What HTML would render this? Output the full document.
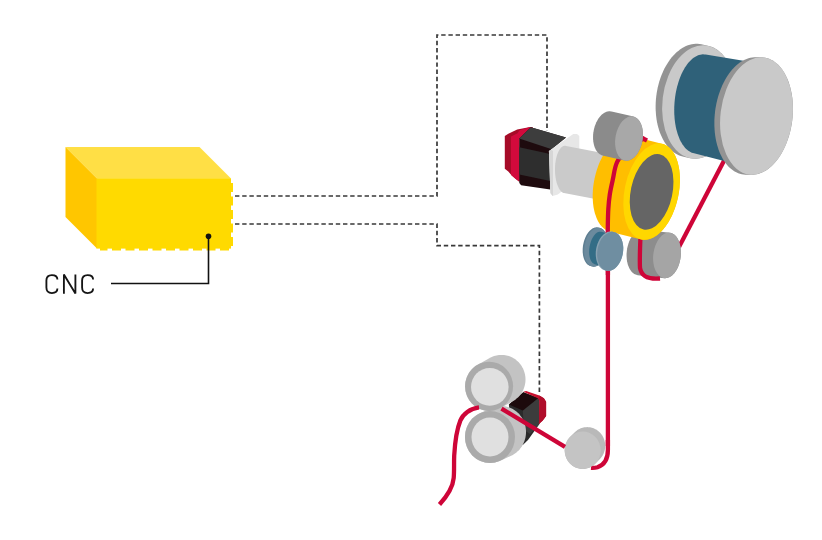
<!DOCTYPE html>
<html><head><meta charset="utf-8"><style>
html,body{margin:0;padding:0;background:#fff;width:822px;height:540px;overflow:hidden}
svg{display:block}
body{font-family:"Liberation Sans",sans-serif}
</style></head><body>
<svg width="822" height="540" viewBox="0 0 822 540">
<rect width="822" height="540" fill="#fff"/>
<polygon points="65.50,147.00 199.50,147.00 231.00,178.50 97.00,178.50" fill="#FFDF45"/>
<polygon points="65.50,147.00 97.00,178.50 97.00,248.50 65.50,217.00" fill="#FFC600"/>
<rect x="96.5" y="178.3" width="134.5" height="70.3" fill="#FFDA00"/>
<path d="M231 183 V248.5 H100" fill="none" stroke="#FFDA00" stroke-width="4" stroke-dasharray="9 4.5"/>
<path d="M235 196 H437 V35 H547 V131" fill="none" stroke="#383838" stroke-width="1.7" stroke-dasharray="4.4 2.8"/>
<path d="M235 224 H437 V245.6 H539.4 V393" fill="none" stroke="#383838" stroke-width="1.7" stroke-dasharray="4.4 2.8"/>
<path d="M208.5 236 V283.5 H111" fill="none" stroke="#111" stroke-width="1.6"/>
<circle cx="208.5" cy="236.3" r="2.8" fill="#111"/>
<path d="M57.40 279.6 C57.40 276.6 55.20 275.1 51.90 275.1 C48.60 275.1 46.40 277 46.40 280.6 V287.6 C46.40 291.2 48.60 293.1 51.90 293.1 C55.20 293.1 57.40 291.6 57.40 288.6 M93.10 279.6 C93.10 276.6 90.90 275.1 87.60 275.1 C84.30 275.1 82.10 277 82.10 280.6 V287.6 C82.10 291.2 84.30 293.1 87.60 293.1 C90.90 293.1 93.10 291.6 93.10 288.6 M63.9 293.8 V274.6 L75.4 293.6 V274.4" fill="none" stroke="#151515" stroke-width="1.85" stroke-linejoin="bevel"/>
<polygon points="504.80,136.00 508.30,133.80 517.20,129.60 530.20,126.90 533.00,127.50 519.40,139.00 519.40,182.00 515.80,179.00 511.70,175.50 508.30,171.40 504.80,168.70" fill="#A60B28"/>
<polygon points="511.00,136.50 517.50,133.20 519.50,130.30 530.20,127.00 533.00,127.50 519.40,139.00 519.80,181.50 515.80,179.00 511.70,175.50 511.00,174.50" fill="#D20A3C"/>
<polygon points="519.30,138.50 530.80,127.30 566.00,137.40 551.00,149.20 550.30,189.40 521.10,185.30 519.30,183.00" fill="#1E0B0E"/>
<polygon points="519.30,138.50 530.80,127.30 566.00,137.40 551.70,149.20" fill="#3D3D3D"/>
<polygon points="519.30,147.30 550.30,154.00 550.30,181.10 519.30,174.40" fill="#2E2E2E"/>
<polygon points="548.90,150.90 551.10,149.40 573.30,133.90 577.00,133.90 579.30,136.10 579.30,178.00 557.80,194.60 552.60,196.10 550.40,193.10" fill="#E7E7E7"/>
<polygon points="548.90,150.90 551.10,149.40 553.00,151.00 553.00,195.00 552.60,196.10 550.40,193.10" fill="#D6D6D6"/>
<polygon points="555.00,169.50 555.01,168.26 555.05,167.02 555.12,165.79 555.22,164.57 555.34,163.37 555.49,162.18 555.66,161.01 555.86,159.86 556.09,158.74 556.34,157.65 556.61,156.59 556.91,155.57 557.23,154.59 557.57,153.64 557.93,152.74 558.31,151.89 558.71,151.08 559.12,150.33 559.55,149.62 560.00,148.98 560.46,148.38 560.93,147.85 561.42,147.37 561.91,146.96 562.41,146.61 562.92,146.32 563.44,146.09 563.95,145.93 564.48,145.83 565.00,145.80 565.52,145.83 566.05,145.93 600.05,152.43 600.56,152.59 601.08,152.82 601.59,153.11 602.09,153.46 602.58,153.87 603.07,154.35 603.54,154.88 604.00,155.48 604.45,156.12 604.88,156.83 605.29,157.58 605.69,158.39 606.07,159.24 606.43,160.14 606.77,161.09 607.09,162.07 607.39,163.09 607.66,164.15 607.91,165.24 608.14,166.36 608.34,167.51 608.51,168.68 608.66,169.87 608.78,171.07 608.88,172.29 608.95,173.52 608.99,174.76 609.00,176.00 608.99,177.24 608.95,178.48 608.88,179.71 608.78,180.93 608.66,182.13 608.51,183.32 608.34,184.49 608.14,185.64 607.91,186.76 607.66,187.85 607.39,188.91 607.09,189.93 606.77,190.91 606.43,191.86 606.07,192.76 605.69,193.61 605.29,194.42 604.88,195.17 604.45,195.88 604.00,196.52 603.54,197.12 603.07,197.65 602.58,198.13 602.09,198.54 601.59,198.89 601.08,199.18 600.56,199.41 600.05,199.57 599.52,199.67 599.00,199.70 598.48,199.67 597.95,199.57 563.95,193.07 563.44,192.91 562.92,192.68 562.41,192.39 561.91,192.04 561.42,191.63 560.93,191.15 560.46,190.62 560.00,190.02 559.55,189.38 559.12,188.67 558.71,187.92 558.31,187.11 557.93,186.26 557.57,185.36 557.23,184.41 556.91,183.43 556.61,182.41 556.34,181.35 556.09,180.26 555.86,179.14 555.66,177.99 555.49,176.82 555.34,175.63 555.22,174.43 555.12,173.21 555.05,171.98 555.01,170.74" fill="#CACACA"/>
<path d="M727 155 L679 247" stroke="#CE0538" stroke-width="4.3" fill="none"/>
<polygon points="655.62,107.91 655.63,104.96 655.74,101.99 655.96,99.02 656.27,96.05 656.69,93.10 657.20,90.16 657.80,87.26 658.51,84.39 659.30,81.56 660.19,78.79 661.17,76.07 662.23,73.43 663.37,70.85 664.60,68.36 665.90,65.96 667.27,63.65 668.72,61.44 670.23,59.34 671.79,57.35 673.42,55.48 675.10,53.73 676.83,52.12 678.59,50.63 680.40,49.28 682.24,48.07 684.11,47.01 686.00,46.09 687.91,45.32 689.83,44.70 691.76,44.24 693.69,43.93 695.62,43.77 697.54,43.77 699.45,43.92 701.33,44.24 707.83,45.74 709.70,46.20 711.53,46.82 713.33,47.59 715.09,48.50 716.80,49.57 718.47,50.78 720.08,52.13 721.64,53.61 723.13,55.23 724.56,56.97 725.91,58.84 727.20,60.83 728.40,62.93 729.53,65.14 730.57,67.45 731.53,69.85 732.39,72.34 733.17,74.92 733.85,77.56 734.43,80.28 734.92,83.05 735.31,85.88 735.60,88.75 735.79,91.65 735.88,94.59 735.87,97.54 735.76,100.51 735.54,103.48 735.23,106.45 734.81,109.40 734.30,112.34 733.70,115.24 732.99,118.11 732.20,120.94 731.31,123.71 730.33,126.43 729.27,129.07 728.13,131.65 726.90,134.14 725.60,136.54 724.23,138.85 722.78,141.06 721.27,143.16 719.71,145.15 718.08,147.02 716.40,148.77 714.67,150.38 712.91,151.87 711.10,153.22 709.26,154.43 707.39,155.49 705.50,156.41 703.59,157.18 701.67,157.80 699.74,158.26 697.81,158.57 695.88,158.73 693.96,158.73 692.05,158.58 690.17,158.26 683.67,156.76 681.80,156.30 679.97,155.68 678.17,154.91 676.41,154.00 674.70,152.93 673.03,151.72 671.42,150.37 669.86,148.89 668.37,147.27 666.94,145.53 665.59,143.66 664.30,141.67 663.10,139.57 661.97,137.36 660.93,135.05 659.97,132.65 659.11,130.16 658.33,127.58 657.65,124.94 657.07,122.22 656.58,119.45 656.19,116.62 655.90,113.75 655.71,110.85" fill="#939393"/><ellipse cx="699.00" cy="102.00" rx="36.50" ry="57.00" transform="rotate(7.00 699.00 102.00)" fill="#C9C9C9"/>
<polygon points="674.23,109.57 674.28,106.98 674.40,104.38 674.60,101.78 674.86,99.18 675.19,96.60 675.59,94.04 676.05,91.51 676.59,89.01 677.18,86.56 677.84,84.15 678.56,81.79 679.34,79.50 680.17,77.27 681.06,75.12 682.00,73.04 682.99,71.05 684.03,69.15 685.11,67.35 686.23,65.65 687.39,64.05 688.58,62.56 689.80,61.18 691.06,59.92 692.33,58.79 693.63,57.77 694.95,56.89 696.28,56.13 697.62,55.50 698.96,55.01 700.31,54.65 701.66,54.43 703.00,54.34 704.34,54.39 705.66,54.57 753.93,62.39 755.32,62.73 756.68,63.20 758.03,63.82 759.34,64.57 760.62,65.46 761.87,66.48 763.08,67.63 764.25,68.91 765.37,70.31 766.45,71.84 767.48,73.47 768.45,75.22 769.37,77.08 770.22,79.03 771.02,81.09 771.76,83.23 772.42,85.46 773.03,87.76 773.56,90.14 774.02,92.58 774.42,95.08 774.73,97.63 774.98,100.23 775.15,102.87 775.25,105.53 775.28,108.22 775.22,110.93 775.10,113.64 774.90,116.35 774.62,119.06 774.28,121.76 773.86,124.43 773.37,127.07 772.81,129.68 772.18,132.25 771.49,134.76 770.73,137.22 769.91,139.61 769.03,141.94 768.09,144.19 767.10,146.35 766.05,148.43 764.96,150.41 763.81,152.29 762.63,154.07 761.40,155.74 760.14,157.29 758.85,158.73 757.52,160.04 756.17,161.22 754.80,162.28 753.41,163.20 752.00,163.99 750.58,164.65 749.16,165.16 747.73,165.53 746.30,165.76 744.88,165.85 743.47,165.80 742.07,165.61 740.68,165.27 693.03,153.11 691.74,152.65 690.47,152.06 689.23,151.34 688.02,150.50 686.84,149.52 685.70,148.42 684.60,147.19 683.54,145.85 682.52,144.40 681.56,142.83 680.64,141.16 679.78,139.38 678.97,137.51 678.22,135.54 677.53,133.49 676.90,131.36 676.33,129.16 675.83,126.88 675.40,124.54 675.03,122.15 674.73,119.70 674.50,117.22 674.34,114.69 674.25,112.14" fill="#2F6179"/>
<polygon points="714.35,123.88 714.38,120.83 714.51,117.76 714.74,114.68 715.07,111.61 715.49,108.55 716.02,105.52 716.63,102.51 717.34,99.53 718.15,96.61 719.04,93.73 720.02,90.92 721.08,88.17 722.23,85.51 723.45,82.92 724.75,80.43 726.12,78.03 727.56,75.74 729.06,73.56 730.62,71.49 732.23,69.55 733.90,67.73 735.61,66.04 737.37,64.50 739.16,63.09 740.98,61.83 742.84,60.72 744.71,59.76 746.60,58.95 748.50,58.30 750.40,57.81 752.31,57.47 754.22,57.30 756.11,57.29 761.81,57.29 763.69,57.44 765.55,57.75 767.39,58.22 769.19,58.85 770.96,59.63 772.69,60.57 774.38,61.66 776.02,62.90 777.60,64.29 779.13,65.81 780.59,67.48 781.99,69.28 783.32,71.20 784.57,73.25 785.75,75.42 786.85,77.69 787.87,80.08 788.79,82.56 789.63,85.13 790.38,87.79 791.04,90.52 791.60,93.32 792.07,96.19 792.44,99.11 792.70,102.08 792.88,105.08 792.95,108.12 792.92,111.17 792.79,114.24 792.56,117.32 792.23,120.39 791.81,123.45 791.28,126.48 790.67,129.49 789.96,132.47 789.15,135.39 788.26,138.27 787.28,141.08 786.22,143.83 785.07,146.49 783.85,149.08 782.55,151.57 781.18,153.97 779.74,156.26 778.24,158.44 776.68,160.51 775.07,162.45 773.40,164.27 771.69,165.96 769.93,167.50 768.14,168.91 766.32,170.17 764.46,171.28 762.59,172.24 760.70,173.05 758.80,173.70 756.90,174.19 754.99,174.53 753.08,174.70 751.19,174.71 745.49,174.71 743.61,174.56 741.75,174.25 739.91,173.78 738.11,173.15 736.34,172.37 734.61,171.43 732.92,170.34 731.28,169.10 729.70,167.71 728.17,166.19 726.71,164.52 725.31,162.72 723.98,160.80 722.73,158.75 721.55,156.58 720.45,154.31 719.43,151.92 718.51,149.44 717.67,146.87 716.92,144.21 716.26,141.48 715.70,138.68 715.23,135.81 714.86,132.89 714.60,129.92 714.42,126.92" fill="#939393"/><ellipse cx="756.50" cy="116.00" rx="36.00" ry="59.00" transform="rotate(7.00 756.50 116.00)" fill="#C9C9C9"/>
<polygon points="626.57,255.49 626.58,254.30 626.64,253.11 626.73,251.92 626.85,250.72 627.02,249.54 627.22,248.36 627.46,247.19 627.73,246.04 628.04,244.90 628.38,243.78 628.76,242.69 629.17,241.62 629.61,240.59 630.08,239.58 630.57,238.62 631.10,237.68 631.65,236.79 632.23,235.95 632.82,235.14 633.44,234.39 634.08,233.68 634.74,233.03 635.41,232.42 636.09,231.88 636.79,231.39 637.50,230.95 638.21,230.58 638.94,230.27 639.66,230.01 640.39,229.82 641.12,229.69 641.85,229.62 642.57,229.61 643.29,229.67 669.79,232.67 670.50,232.79 671.20,232.97 671.89,233.21 672.57,233.52 673.23,233.88 673.87,234.30 674.50,234.78 675.10,235.32 675.68,235.91 676.24,236.55 676.77,237.25 677.28,238.00 677.76,238.79 678.21,239.63 678.62,240.51 679.01,241.44 679.36,242.40 679.68,243.40 679.97,244.43 680.21,245.49 680.43,246.57 680.60,247.69 680.74,248.82 680.84,249.97 680.90,251.14 680.93,252.31 680.92,253.50 680.86,254.69 680.77,255.88 680.65,257.08 680.48,258.26 680.28,259.44 680.04,260.61 679.77,261.76 679.46,262.90 679.12,264.02 678.74,265.11 678.33,266.18 677.89,267.21 677.42,268.22 676.93,269.18 676.40,270.12 675.85,271.01 675.27,271.85 674.68,272.66 674.06,273.41 673.42,274.12 672.76,274.77 672.09,275.38 671.41,275.92 670.71,276.41 670.00,276.85 669.29,277.22 668.56,277.53 667.84,277.79 667.11,277.98 666.38,278.11 665.65,278.18 664.93,278.19 664.21,278.13 637.71,275.13 637.00,275.01 636.30,274.83 635.61,274.59 634.93,274.28 634.27,273.92 633.63,273.50 633.00,273.02 632.40,272.48 631.82,271.89 631.26,271.25 630.73,270.55 630.22,269.80 629.74,269.01 629.29,268.17 628.88,267.29 628.49,266.36 628.14,265.40 627.82,264.40 627.53,263.37 627.29,262.31 627.07,261.23 626.90,260.11 626.76,258.98 626.66,257.83 626.60,256.66" fill="#8D8D8D"/>
<path d="M640.5 236 C640 248 639.5 260 640 268 C641.5 276 647 279.5 660 278.5" stroke="#CE0538" stroke-width="4.3" fill="none"/>
<ellipse cx="667.00" cy="255.40" rx="13.75" ry="22.90" transform="rotate(7.00 667.00 255.40)" fill="#A5A5A5"/>
<polygon points="592.69,195.94 592.73,193.47 592.85,190.98 593.05,188.47 593.32,185.95 593.67,183.43 594.09,180.90 594.59,178.39 595.16,175.89 595.80,173.41 596.51,170.96 597.29,168.54 598.13,166.17 599.03,163.85 600.00,161.58 601.02,159.38 602.09,157.24 603.22,155.17 604.40,153.19 605.62,151.29 606.89,149.47 608.19,147.76 609.53,146.14 610.90,144.63 612.30,143.22 613.72,141.92 615.16,140.75 616.62,139.69 618.09,138.75 619.56,137.93 621.05,137.24 622.53,136.68 624.01,136.25 625.47,135.95 626.93,135.78 628.37,135.75 629.79,135.84 631.19,136.07 661.79,143.67 663.16,144.03 664.49,144.52 665.79,145.14 667.06,145.89 668.28,146.76 669.45,147.75 670.58,148.87 671.65,150.10 672.67,151.44 673.63,152.90 674.53,154.46 675.37,156.12 676.14,157.88 676.84,159.74 677.48,161.68 678.04,163.70 678.54,165.80 678.95,167.97 679.30,170.20 679.57,172.50 679.76,174.84 679.87,177.23 679.91,179.66 679.87,182.13 679.75,184.62 679.55,187.13 679.28,189.65 678.93,192.17 678.51,194.70 678.01,197.21 677.44,199.71 676.80,202.19 676.09,204.64 675.31,207.06 674.47,209.43 673.57,211.75 672.60,214.02 671.58,216.22 670.51,218.36 669.38,220.43 668.20,222.41 666.98,224.31 665.71,226.13 664.41,227.84 663.07,229.46 661.70,230.97 660.30,232.38 658.88,233.68 657.44,234.85 655.98,235.91 654.51,236.85 653.04,237.67 651.55,238.36 650.07,238.92 648.59,239.35 647.13,239.65 645.67,239.82 644.23,239.85 642.81,239.76 641.41,239.53 610.81,231.93 609.44,231.57 608.11,231.08 606.81,230.46 605.54,229.71 604.32,228.84 603.15,227.85 602.02,226.73 600.95,225.50 599.93,224.16 598.97,222.70 598.07,221.14 597.23,219.48 596.46,217.72 595.76,215.86 595.12,213.92 594.56,211.90 594.06,209.80 593.65,207.63 593.30,205.40 593.03,203.10 592.84,200.76 592.73,198.37" fill="#FFBE00"/>
<path d="M645.00 138.00 C642.33 139.50 633.63 143.02 629.00 147.00 C624.37 150.98 619.90 156.47 617.20 161.90 C614.50 167.33 614.03 174.18 612.80 179.60 C611.57 185.02 610.55 189.45 609.80 194.40 C609.05 199.35 608.63 203.87 608.30 209.30 C607.97 214.73 607.87 222.55 607.80 227.00 C607.73 231.45 607.88 234.50 607.90 236.00" stroke="#CE0538" stroke-width="4.3" fill="none"/>
<ellipse cx="651.60" cy="191.60" rx="27.00" ry="49.00" transform="rotate(12.00 651.60 191.60)" fill="#FFD700"/>
<ellipse cx="651.60" cy="191.90" rx="20.80" ry="38.50" transform="rotate(12.00 651.60 191.90)" fill="#656565"/>
<path d="M639 136.5 L647 140.5" stroke="#CE0538" stroke-width="4.3" fill="none"/>
<polygon points="593.06,136.93 593.09,135.78 593.16,134.62 593.27,133.46 593.42,132.30 593.61,131.14 593.83,129.99 594.09,128.85 594.38,127.72 594.71,126.60 595.07,125.51 595.46,124.44 595.89,123.39 596.35,122.37 596.83,121.38 597.35,120.42 597.89,119.50 598.45,118.62 599.04,117.78 599.65,116.98 600.28,116.23 600.93,115.53 601.59,114.87 602.27,114.27 602.97,113.71 603.67,113.21 604.39,112.77 605.11,112.39 605.83,112.06 606.56,111.79 607.29,111.58 608.02,111.43 608.75,111.34 609.47,111.31 610.18,111.35 610.89,111.44 611.59,111.59 633.59,116.59 634.27,116.81 634.94,117.08 635.59,117.41 636.22,117.80 636.84,118.25 637.43,118.75 638.00,119.31 638.55,119.92 639.07,120.58 639.56,121.29 640.02,122.04 640.45,122.84 640.85,123.69 641.22,124.57 641.56,125.49 641.86,126.45 642.12,127.44 642.35,128.47 642.54,129.52 642.70,130.59 642.82,131.68 642.90,132.80 642.94,133.93 642.94,135.07 642.91,136.22 642.84,137.38 642.73,138.54 642.58,139.70 642.39,140.86 642.17,142.01 641.91,143.15 641.62,144.28 641.29,145.40 640.93,146.49 640.54,147.56 640.11,148.61 639.65,149.63 639.17,150.62 638.65,151.58 638.11,152.50 637.55,153.38 636.96,154.22 636.35,155.02 635.72,155.77 635.07,156.47 634.41,157.13 633.73,157.73 633.03,158.29 632.33,158.79 631.61,159.23 630.89,159.61 630.17,159.94 629.44,160.21 628.71,160.42 627.98,160.57 627.25,160.66 626.53,160.69 625.82,160.65 625.11,160.56 624.41,160.41 602.41,155.41 601.73,155.19 601.06,154.92 600.41,154.59 599.78,154.20 599.16,153.75 598.57,153.25 598.00,152.69 597.45,152.08 596.93,151.42 596.44,150.71 595.98,149.96 595.55,149.16 595.15,148.31 594.78,147.43 594.44,146.51 594.14,145.55 593.88,144.56 593.65,143.53 593.46,142.48 593.30,141.41 593.18,140.32 593.10,139.20 593.06,138.07" fill="#8B8B8B"/><ellipse cx="629.00" cy="138.50" rx="13.60" ry="22.40" transform="rotate(10.00 629.00 138.50)" fill="#A8A8A8"/>
<path d="M607.9 232 V446" stroke="#CE0538" stroke-width="4.3" fill="none"/>
<polygon points="582.67,250.90 582.68,249.89 582.71,248.88 582.78,247.86 582.88,246.84 583.01,245.82 583.17,244.80 583.37,243.79 583.59,242.79 583.85,241.79 584.13,240.81 584.45,239.85 584.79,238.91 585.15,237.98 585.55,237.08 585.96,236.21 586.40,235.37 586.86,234.56 587.35,233.78 587.85,233.04 588.37,232.33 588.91,231.67 589.46,231.05 590.03,230.47 590.61,229.93 591.20,229.44 591.80,229.00 592.41,228.61 593.02,228.26 593.64,227.97 594.25,227.73 594.87,227.54 595.49,227.41 596.11,227.33 596.72,227.30 597.32,227.32 597.92,227.40 598.51,227.53 600.01,227.93 600.59,228.11 601.15,228.35 601.70,228.64 602.24,228.98 602.75,229.37 603.25,229.80 603.73,230.29 604.19,230.82 604.63,231.40 605.04,232.02 605.42,232.68 605.79,233.38 606.12,234.12 606.43,234.89 606.71,235.70 606.95,236.54 607.17,237.41 607.36,238.31 607.52,239.23 607.64,240.17 607.74,241.13 607.80,242.11 607.83,243.10 607.82,244.11 607.79,245.12 607.72,246.14 607.62,247.16 607.49,248.18 607.33,249.20 607.13,250.21 606.91,251.21 606.65,252.21 606.37,253.19 606.05,254.15 605.71,255.09 605.35,256.02 604.95,256.92 604.54,257.79 604.10,258.63 603.64,259.44 603.15,260.22 602.65,260.96 602.13,261.67 601.59,262.33 601.04,262.95 600.47,263.53 599.89,264.07 599.30,264.56 598.70,265.00 598.09,265.39 597.48,265.74 596.86,266.03 596.25,266.27 595.63,266.46 595.01,266.59 594.39,266.67 593.78,266.70 593.18,266.68 592.58,266.60 591.99,266.47 590.49,266.07 589.91,265.89 589.35,265.65 588.80,265.36 588.26,265.02 587.75,264.63 587.25,264.20 586.77,263.71 586.31,263.18 585.87,262.60 585.46,261.98 585.08,261.32 584.71,260.62 584.38,259.88 584.07,259.11 583.79,258.30 583.55,257.46 583.33,256.59 583.14,255.69 582.98,254.77 582.86,253.83 582.76,252.87 582.70,251.89" fill="#5F7F92"/><ellipse cx="596.00" cy="247.20" rx="11.50" ry="19.70" transform="rotate(10.00 596.00 247.20)" fill="#6B8A9D"/>
<polygon points="589.15,251.62 589.17,250.78 589.22,249.93 589.28,249.08 589.38,248.23 589.49,247.38 589.63,246.52 589.79,245.68 589.97,244.83 590.18,244.00 590.41,243.18 590.66,242.37 590.92,241.57 591.21,240.80 591.52,240.04 591.84,239.31 592.18,238.60 592.54,237.91 592.91,237.25 593.30,236.63 593.70,236.03 594.11,235.47 594.53,234.94 594.96,234.44 595.40,233.99 595.84,233.57 596.30,233.19 596.75,232.85 597.21,232.56 597.68,232.30 598.14,232.09 598.60,231.92 599.06,231.80 599.52,231.72 599.97,231.69 600.42,231.70 600.87,231.75 601.30,231.85 612.30,234.85 612.72,234.99 613.14,235.18 613.54,235.41 613.93,235.69 614.31,236.00 614.67,236.36 615.02,236.76 615.35,237.19 615.67,237.67 615.96,238.18 616.24,238.72 616.49,239.30 616.73,239.91 616.95,240.55 617.14,241.22 617.31,241.92 617.46,242.64 617.58,243.39 617.68,244.15 617.76,244.94 617.81,245.74 617.84,246.55 617.85,247.38 617.83,248.22 617.78,249.07 617.72,249.92 617.62,250.77 617.51,251.62 617.37,252.48 617.21,253.32 617.03,254.17 616.82,255.00 616.59,255.82 616.34,256.63 616.08,257.43 615.79,258.20 615.48,258.96 615.16,259.69 614.82,260.40 614.46,261.09 614.09,261.75 613.70,262.37 613.30,262.97 612.89,263.53 612.47,264.06 612.04,264.56 611.60,265.01 611.16,265.43 610.70,265.81 610.25,266.15 609.79,266.44 609.32,266.70 608.86,266.91 608.40,267.08 607.94,267.20 607.48,267.28 607.03,267.31 606.58,267.30 606.13,267.25 605.70,267.15 594.70,264.15 594.28,264.01 593.86,263.82 593.46,263.59 593.07,263.31 592.69,263.00 592.33,262.64 591.98,262.24 591.65,261.81 591.33,261.33 591.04,260.82 590.76,260.28 590.51,259.70 590.27,259.09 590.05,258.45 589.86,257.78 589.69,257.08 589.54,256.36 589.42,255.61 589.32,254.85 589.24,254.06 589.19,253.26 589.16,252.45" fill="#336D86"/>
<path d="M607.9 232 V275" stroke="#CE0538" stroke-width="4.3" fill="none"/>
<polygon points="595.74,253.87 595.76,252.86 595.81,251.84 595.91,250.82 596.03,249.80 596.19,248.78 596.39,247.76 596.62,246.76 596.88,245.77 597.18,244.79 597.51,243.83 597.87,242.89 598.26,241.97 598.68,241.08 599.12,240.21 599.59,239.37 600.09,238.57 600.61,237.80 601.16,237.06 601.72,236.37 602.31,235.71 602.91,235.10 603.53,234.52 604.16,234.00 604.80,233.52 605.46,233.09 606.13,232.70 606.80,232.37 607.48,232.09 608.16,231.86 608.84,231.69 609.53,231.56 610.21,231.49 610.88,231.47 611.56,231.51 612.22,231.60 612.88,231.74 614.28,232.14 614.92,232.34 615.55,232.59 616.17,232.89 616.77,233.24 617.35,233.64 617.91,234.08 618.45,234.58 618.97,235.12 619.47,235.71 619.93,236.34 620.38,237.01 620.79,237.72 621.18,238.47 621.53,239.25 621.86,240.07 622.15,240.92 622.41,241.79 622.64,242.70 622.83,243.62 622.98,244.57 623.11,245.54 623.19,246.52 623.25,247.52 623.26,248.53 623.24,249.54 623.19,250.56 623.09,251.58 622.97,252.60 622.81,253.62 622.61,254.64 622.38,255.64 622.12,256.63 621.82,257.61 621.49,258.57 621.13,259.51 620.74,260.43 620.32,261.32 619.88,262.19 619.41,263.03 618.91,263.83 618.39,264.60 617.84,265.34 617.28,266.03 616.69,266.69 616.09,267.30 615.47,267.88 614.84,268.40 614.20,268.88 613.54,269.31 612.87,269.70 612.20,270.03 611.52,270.31 610.84,270.54 610.16,270.71 609.47,270.84 608.79,270.91 608.12,270.93 607.44,270.89 606.78,270.80 606.12,270.66 604.72,270.26 604.08,270.06 603.45,269.81 602.83,269.51 602.23,269.16 601.65,268.76 601.09,268.32 600.55,267.82 600.03,267.28 599.53,266.69 599.07,266.06 598.62,265.39 598.21,264.68 597.82,263.93 597.47,263.15 597.14,262.33 596.85,261.48 596.59,260.61 596.36,259.70 596.17,258.78 596.02,257.83 595.89,256.86 595.81,255.88 595.75,254.88" fill="#88A2B2"/><ellipse cx="610.20" cy="251.40" rx="12.80" ry="19.70" transform="rotate(10.00 610.20 251.40)" fill="#6F8EA1"/>
<polygon points="564.70,450.30 564.72,449.32 564.80,448.35 564.92,447.37 565.09,446.41 565.31,445.46 565.58,444.52 565.90,443.60 566.26,442.69 566.66,441.81 567.11,440.95 567.60,440.12 568.14,439.31 568.71,438.53 569.32,437.79 569.97,437.08 574.47,432.58 575.16,431.90 575.87,431.27 576.62,430.67 577.40,430.12 578.20,429.61 579.03,429.14 579.88,428.72 580.75,428.34 581.64,428.02 582.54,427.74 583.46,427.51 584.38,427.33 585.32,427.20 586.26,427.13 587.20,427.10 588.14,427.13 589.08,427.20 590.02,427.33 590.94,427.51 591.86,427.74 592.76,428.02 593.65,428.34 594.52,428.72 595.37,429.14 596.20,429.61 597.00,430.12 597.78,430.67 598.53,431.27 599.24,431.90 599.93,432.58 600.58,433.29 601.19,434.03 601.76,434.81 602.30,435.62 602.79,436.45 603.24,437.31 603.64,438.19 604.00,439.10 604.32,440.02 604.59,440.96 604.81,441.91 604.98,442.87 605.10,443.85 605.18,444.82 605.20,445.80 605.18,446.78 605.10,447.75 604.98,448.73 604.81,449.69 604.59,450.64 604.32,451.58 604.00,452.50 603.64,453.41 603.24,454.29 602.79,455.15 602.30,455.98 601.76,456.79 601.19,457.57 600.58,458.31 599.93,459.02 595.43,463.52 594.74,464.20 594.03,464.83 593.28,465.43 592.50,465.98 591.70,466.49 590.87,466.96 590.02,467.38 589.15,467.76 588.26,468.08 587.36,468.36 586.44,468.59 585.52,468.77 584.58,468.90 583.64,468.97 582.70,469.00 581.76,468.97 580.82,468.90 579.88,468.77 578.96,468.59 578.04,468.36 577.14,468.08 576.25,467.76 575.38,467.38 574.53,466.96 573.70,466.49 572.90,465.98 572.12,465.43 571.37,464.83 570.66,464.20 569.97,463.52 569.32,462.81 568.71,462.07 568.14,461.29 567.60,460.48 567.11,459.65 566.66,458.79 566.26,457.91 565.90,457.00 565.58,456.08 565.31,455.14 565.09,454.19 564.92,453.23 564.80,452.25 564.72,451.28" fill="#B9B9B9"/>
<path d="M607.9 440 V450 C607.9 459 604 465 597.5 467.2 C595.5 467.8 593.5 468 591 467.8" stroke="#CE0538" stroke-width="4.3" fill="none"/>
<ellipse cx="582.70" cy="450.30" rx="18.00" ry="18.70" transform="rotate(0.00 582.70 450.30)" fill="#C4C4C4"/>
<polygon points="508.90,404.40 523.30,392.20 539.40,398.00 539.40,424.00 528.00,440.00 522.80,445.00 512.00,440.00" fill="#2A2A2A"/>
<polygon points="522.80,410.60 538.00,398.30 539.40,401.00 539.40,424.00 530.00,434.00 524.00,430.00" fill="#3C3C3C"/>
<polygon points="508.90,404.40 523.30,392.20 538.00,398.30 522.80,410.60" fill="#1C0A0C"/>
<polygon points="523.30,391.70 526.10,391.10 539.40,395.60 543.90,398.30 546.10,401.70 546.10,416.10 542.80,420.60 538.90,423.90 539.40,401.00 538.00,398.30" fill="#C8102E"/>
<polygon points="539.40,395.60 543.90,398.30 546.10,401.70 546.10,416.10 542.80,420.60 538.90,423.90 539.40,401.00" fill="#B00D2A"/>
<polygon points="465.00,437.00 465.03,435.64 465.14,434.28 465.31,432.93 465.55,431.59 465.85,430.27 466.22,428.97 466.66,427.68 467.16,426.42 467.72,425.20 468.35,424.00 469.03,422.84 469.77,421.72 470.57,420.64 471.42,419.60 472.32,418.62 473.27,417.68 474.27,416.79 475.31,415.97 476.38,415.19 477.50,414.48 478.65,413.83 479.83,413.25 490.83,408.25 492.04,407.73 493.27,407.27 494.53,406.89 495.80,406.57 497.09,406.32 498.39,406.14 499.69,406.04 501.00,406.00 502.31,406.04 503.61,406.14 504.91,406.32 506.20,406.57 507.47,406.89 508.73,407.27 509.96,407.73 511.17,408.25 512.35,408.83 513.50,409.48 514.62,410.19 515.69,410.97 516.73,411.79 517.73,412.68 518.68,413.62 519.58,414.60 520.43,415.64 521.23,416.72 521.97,417.84 522.65,419.00 523.28,420.20 523.84,421.42 524.34,422.68 524.78,423.97 525.15,425.27 525.45,426.59 525.69,427.93 525.86,429.28 525.97,430.64 526.00,432.00 525.97,433.36 525.86,434.72 525.69,436.07 525.45,437.41 525.15,438.73 524.78,440.03 524.34,441.32 523.84,442.58 523.28,443.80 522.65,445.00 521.97,446.16 521.23,447.28 520.43,448.36 519.58,449.40 518.68,450.38 517.73,451.32 516.73,452.21 515.69,453.03 514.62,453.81 513.50,454.52 512.35,455.17 511.17,455.75 500.17,460.75 498.96,461.27 497.73,461.73 496.47,462.11 495.20,462.43 493.91,462.68 492.61,462.86 491.31,462.96 490.00,463.00 488.69,462.96 487.39,462.86 486.09,462.68 484.80,462.43 483.53,462.11 482.27,461.73 481.04,461.27 479.83,460.75 478.65,460.17 477.50,459.52 476.38,458.81 475.31,458.03 474.27,457.21 473.27,456.32 472.32,455.38 471.42,454.40 470.57,453.36 469.77,452.28 469.03,451.16 468.35,450.00 467.72,448.80 467.16,447.58 466.66,446.32 466.22,445.03 465.85,443.73 465.55,442.41 465.31,441.07 465.14,439.72 465.03,438.36" fill="#C3C3C3"/>
<ellipse cx="490.00" cy="437.00" rx="25.00" ry="26.00" transform="rotate(0.00 490.00 437.00)" fill="#AAAAAA"/>
<ellipse cx="490.00" cy="437.00" rx="18.50" ry="19.50" transform="rotate(0.00 490.00 437.00)" fill="#E0E0E0"/>
<polygon points="465.10,386.30 465.13,385.01 465.23,383.73 465.40,382.45 465.62,381.19 465.92,379.93 466.27,378.70 466.69,377.48 467.17,376.29 467.72,375.13 468.32,374.00 468.97,372.90 469.68,371.84 470.45,370.82 471.26,369.84 472.13,368.91 473.04,368.02 474.00,367.18 474.99,366.40 476.03,365.67 477.10,365.00 478.20,364.38 490.60,357.58 491.74,357.03 492.90,356.53 494.08,356.10 495.29,355.74 496.51,355.44 497.75,355.20 498.99,355.03 500.24,354.93 501.50,354.90 502.76,354.93 504.01,355.03 505.25,355.20 506.49,355.44 507.71,355.74 508.92,356.10 510.10,356.53 511.26,357.03 512.40,357.58 513.50,358.20 514.57,358.87 515.61,359.60 516.60,360.38 517.56,361.22 518.47,362.11 519.34,363.04 520.15,364.02 520.92,365.04 521.63,366.10 522.28,367.20 522.88,368.33 523.43,369.49 523.91,370.68 524.33,371.90 524.68,373.13 524.98,374.39 525.20,375.65 525.37,376.93 525.47,378.21 525.50,379.50 525.47,380.79 525.37,382.07 525.20,383.35 524.98,384.61 524.68,385.87 524.33,387.10 523.91,388.32 523.43,389.51 522.88,390.67 522.28,391.80 521.63,392.90 520.92,393.96 520.15,394.98 519.34,395.96 518.47,396.89 517.56,397.78 516.60,398.62 515.61,399.40 514.57,400.13 513.50,400.80 512.40,401.42 500.00,408.22 498.86,408.77 497.70,409.27 496.52,409.70 495.31,410.06 494.09,410.36 492.85,410.60 491.61,410.77 490.36,410.87 489.10,410.90 487.84,410.87 486.59,410.77 485.35,410.60 484.11,410.36 482.89,410.06 481.68,409.70 480.50,409.27 479.34,408.77 478.20,408.22 477.10,407.60 476.03,406.93 474.99,406.20 474.00,405.42 473.04,404.58 472.13,403.69 471.26,402.76 470.45,401.78 469.68,400.76 468.97,399.70 468.32,398.60 467.72,397.47 467.17,396.31 466.69,395.12 466.27,393.90 465.92,392.67 465.62,391.41 465.40,390.15 465.23,388.87 465.13,387.59" fill="#C3C3C3"/>
<ellipse cx="489.10" cy="386.30" rx="24.00" ry="24.60" transform="rotate(0.00 489.10 386.30)" fill="#AAAAAA"/>
<ellipse cx="489.80" cy="386.90" rx="18.80" ry="18.80" transform="rotate(0.00 489.80 386.90)" fill="#E0E0E0"/>
<path d="M501.5 408.6 L565 446.9" stroke="#CE0538" stroke-width="4.3" fill="none"/>
<path d="M479 407.4 C470 408.5 463 414 460.4 420.4 C456.5 430 455 442 454.2 455.6 C453.9 463 454.3 472 453.7 478 C453 486 449 494 439.5 504.5" stroke="#CE0538" stroke-width="4.3" fill="none"/>
</svg>
</body></html>
